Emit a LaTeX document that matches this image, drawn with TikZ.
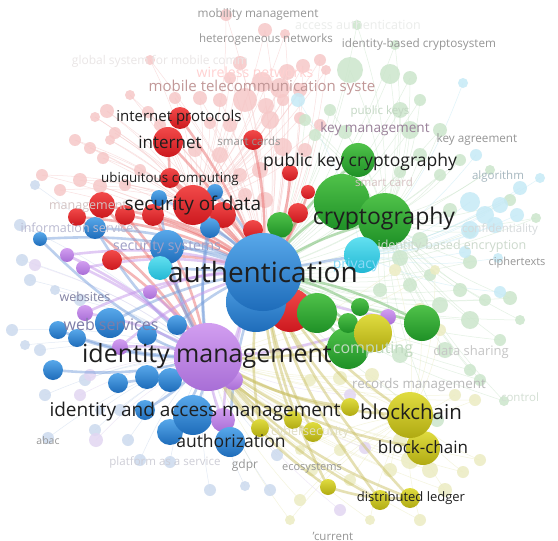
\documentclass[tikz,border=0pt]{standalone}
\usepackage{fontspec}
\setmainfont{Open Sans}
\usepackage{xcolor}
% light top / dark bottom of each cluster colour
\definecolor{bluehi}{RGB}{88,168,234}
\definecolor{bluelo}{RGB}{30,108,186}
\definecolor{redhi}{RGB}{242,74,74}
\definecolor{redlo}{RGB}{204,24,30}
\definecolor{greenhi}{RGB}{80,194,74}
\definecolor{greenlo}{RGB}{30,144,38}
\definecolor{purplehi}{RGB}{210,158,240}
\definecolor{purplelo}{RGB}{168,110,214}
\definecolor{yellowhi}{RGB}{224,220,64}
\definecolor{yellowlo}{RGB}{176,170,18}
\definecolor{cyanhi}{RGB}{98,224,240}
\definecolor{cyanlo}{RGB}{34,184,212}
\definecolor{redlink}{RGB}{234,112,112}
\definecolor{bluelink}{RGB}{120,160,220}
\definecolor{purplelink}{RGB}{196,150,234}
\definecolor{greenlink}{RGB}{110,186,104}
\definecolor{yellowlink}{RGB}{204,194,104}
\definecolor{palered}{RGB}{246,200,200}
\definecolor{palegreen}{RGB}{204,230,204}
\definecolor{palecyan}{RGB}{198,234,246}
\definecolor{paleyellow}{RGB}{236,236,194}
\definecolor{paleblue}{RGB}{204,218,238}
\definecolor{palepurple}{RGB}{226,214,242}
\definecolor{ink}{RGB}{30,30,30}
\definecolor{mute}{RGB}{150,150,150}
\pgfdeclarelayer{faintlinks}
\pgfdeclarelayer{faintnodes}
\pgfdeclarelayer{links}
\pgfsetlayers{faintlinks,faintnodes,links,main}

\begin{document}
\begin{tikzpicture}[x=1pt,y=-1pt,
    rad/.style={circle,inner sep=0pt,minimum size=#1*2pt},
    orb/.style={draw=none,top color=#1hi,bottom color=#1lo},
    pale/.style={draw=none,fill=#1,opacity=0.85},
    thread/.style={draw=#1,line width=0.5pt,opacity=0.55},
    bond/.style={draw=#1,line width=2.6pt,opacity=0.5,line cap=round},
    tag/.style={inner sep=0pt,text=ink,font=\fontsize{#1}{#1}\selectfont},
    hint/.style={inner sep=0pt,text=mute,font=\fontsize{#1}{#1}\selectfont},
    ghost/.style 2 args={inner sep=0pt,text=#2,font=\fontsize{#1}{#1}\selectfont}]
  \useasboundingbox (0,0) rectangle (558,541);
  \begin{pgfonlayer}{faintlinks}
    \fill[white] (0,0) rectangle (558,541);
  \end{pgfonlayer}

  % small highlighted items, per cluster
  \foreach \x/\y/\r [count=\i] in {102/205/13,77/217/9,125/215/10,153/215/11,
      223/215/13,112/260/10,290/173/8,308/192/7,298/213/10,253/230/10,290/310/22}
    \node[rad=\r,orb=red] (red\i) at (\x,\y) {};
  \foreach \x/\y/\r [count=\i] in {40/239/7,95/228/11,159/198/8,215/192/8,210/228/10,
      58/330/9,77/338/9,147/335/10,177/325/10,53/370/10,118/383/10,147/377/12,
      170/380/12,145/410/10,170/432/13,193/415/20,167/247/17}
    \node[rad=\r,orb=blue] (blue\i) at (\x,\y) {};
  \foreach \x/\y/\r [count=\i] in {67/255/7,83/268/7,85/313/8,150/292/7,120/347/8,
      233/380/10,223/420/12,388/317/8}
    \node[rad=\r,orb=purple] (purple\i) at (\x,\y) {};
  \foreach \x/\y/\r [count=\i] in {317/313/20,360/307/9,422/323/18,348/348/21,
      348/323/10,280/225/13}
    \node[rad=\r,orb=green] (green\i) at (\x,\y) {};
  \foreach \x/\y/\r [count=\i] in {350/407/9,313/432/10,293/420/9,260/428/9,
      328/487/8,380/500/10,373/333/19}
    \node[rad=\r,orb=yellow] (yellow\i) at (\x,\y) {};
  \node[rad=12,orb=cyan] (cyan1) at (160,268) {};

  % labelled items
  \node[rad=11,orb=red] (inetp) at (180,118) {};
  \node[rad=15,orb=red] (inet) at (168,142) {};
  \node[rad=10,orb=red] (smartc) at (253,140) {};
  \node[rad=10,orb=red] (ubiq) at (170,178) {};
  \node[rad=20,orb=red] (secdata) at (193,205) {};
  \node[rad=15,orb=blue] (websrv) at (110,323) {};
  \node[rad=15,orb=blue] (authz) at (230,442) {};
  \node[rad=17,orb=green] (pkc) at (358,160) {};
  \node[rad=28,orb=green] (crypto) at (342,202) {};
  \node[rad=27,orb=green] (cryptob) at (385,220) {};
  \node[rad=18,orb=cyan] (priv) at (362,255) {};
  \node[rad=10,orb=yellow] (dl) at (410,498) {};
  \node[rad=17,orb=yellow] (bcb) at (423,448) {};
  \node[rad=23,orb=yellow] (bc) at (410,415) {};
  \node[rad=34,orb=purple] (idm) at (208,357) {};
  \node[rad=30,orb=blue] (authb) at (256,302) {};
  \node[rad=39,orb=blue] (auth) at (263,272) {};

  % background items
  \foreach \x/\y/\r [count=\i] in {226/15/6,265/30/7,285/34/5,240/63/7,287/72/8,
      303/66/7,230/78/6,262/82/10,280/88/10,300/90/7,245/100/12,266/106/8,283/100/6,
      320/60/6,326/70/5,220/100/7,200/98/7,175/98/6,148/112/6,160/125/6,130/95/5,
      107/111/7,95/117/5,115/133/6,90/148/6,75/140/6,103/158/6,100/186/7,80/180/7,
      60/190/6,140/170/6,220/155/8,240/175/7,260/170/8,270/120/9,230/125/7,210/123/6,
      300/118/6,320/125/6,195/150/7,283/147/9,305/150/7,42/175/6,125/185/6,
      265/200/8,245/195/7,150/60/5,110/140/5}{
    \begin{pgfonlayer}{faintnodes}
      \node[rad=\r,pale=palered] (pr\i) at (\x,\y) {};
    \end{pgfonlayer}
    \begin{pgfonlayer}{faintlinks}
      \draw[thread=palered] (pr\i.center) to[bend left=10] (secdata.center);
      \draw[thread=palered] (pr\i.center) to[bend left=10] (auth.center);
    \end{pgfonlayer}
  }
  \foreach \x/\y/\r [count=\i] in {357/25/5,395/45/5,350/70/13,390/74/10,410/78/7,
      400/110/8,420/100/6,410/130/9,440/130/7,460/160/6,420/155/7,400/172/6,
      440/175/6,450/210/7,420/240/8,470/262/7,400/258/8,430/275/6,460/290/7,
      485/300/6,510/298/7,520/320/5,410/285/7,440/305/8,470/320/9,500/340/6,
      445/350/8,400/355/8,380/290/7,470/370/6,480/380/6,470/232/6,490/170/5,
      345/132/7,315/135/6,305/120/6,330/110/6,437/420/7,504/401/5,510/200/6,
      536/218/5}{
    \begin{pgfonlayer}{faintnodes}
      \node[rad=\r,pale=palegreen] (pg\i) at (\x,\y) {};
    \end{pgfonlayer}
    \begin{pgfonlayer}{faintlinks}
      \draw[thread=palegreen] (pg\i.center) to[bend left=10] (cryptob.center);
      \draw[thread=palegreen] (pg\i.center) to[bend left=10] (auth.center);
    \end{pgfonlayer}
  }
  \foreach \x/\y/\r [count=\i] in {476/155/6,470/202/10,485/215/9,470/230/9,
      495/225/8,500/205/8,517/215/7,520/188/7,540/178/5,498/258/5,298/100/7,
      463/83/5,500/292/6,465/252/6}{
    \begin{pgfonlayer}{faintnodes}
      \node[rad=\r,pale=palecyan] (pc\i) at (\x,\y) {};
    \end{pgfonlayer}
    \begin{pgfonlayer}{faintlinks}
      \draw[thread=palecyan] (pc\i.center) to[bend left=10] (priv.center);
    \end{pgfonlayer}
  }
  \foreach \x/\y/\r [count=\i] in {395/270/6,435/270/5,420/310/7,440/330/6,
      455/395/6,475/400/6,390/470/7,410/460/9,430/470/8,445/490/7,463/472/6,
      480/460/6,400/440/7,340/450/6,350/480/6,370/520/5,420/520/6,312/470/6,
      300/500/6,290/520/5,372/375/7,340/378/7,310/380/6,300/450/5}{
    \begin{pgfonlayer}{faintnodes}
      \node[rad=\r,pale=paleyellow] (py\i) at (\x,\y) {};
    \end{pgfonlayer}
    \begin{pgfonlayer}{faintlinks}
      \draw[thread=paleyellow] (py\i.center) to[bend left=10] (bc.center);
      \draw[thread=paleyellow] (py\i.center) to[bend left=10] (idm.center);
    \end{pgfonlayer}
  }
  \foreach \x/\y/\r [count=\i] in {35/185/5,20/225/6,22/260/6,30/280/6,12/330/6,
      25/345/5,40/350/6,45/395/6,48/438/6,85/380/6,95/430/6,128/440/6,140/460/6,
      170/462/6,148/375/6,210/490/6,245/486/5,270/490/6,277/455/6,120/410/6,
      100/410/5,80/300/6,55/290/5}{
    \begin{pgfonlayer}{faintnodes}
      \node[rad=\r,pale=paleblue] (pb\i) at (\x,\y) {};
    \end{pgfonlayer}
    \begin{pgfonlayer}{faintlinks}
      \draw[thread=paleblue] (pb\i.center) to[bend left=10] (idm.center);
    \end{pgfonlayer}
  }
  \foreach \x/\y/\r [count=\i] in {35/265/6,90/375/6,96/440/7,80/395/6,365/448/6,
      340/510/6,350/395/6}{
    \begin{pgfonlayer}{faintnodes}
      \node[rad=\r,pale=palepurple] (pp\i) at (\x,\y) {};
    \end{pgfonlayer}
    \begin{pgfonlayer}{faintlinks}
      \draw[thread=palepurple] (pp\i.center) to[bend left=10] (idm.center);
    \end{pgfonlayer}
  }

  % highlighted links
  \begin{pgfonlayer}{links}
    \foreach \i in {1,...,11}
      \draw[bond=redlink] (red\i.center) to[bend left=12] (auth.center);
    \foreach \i in {1,2,3,4,6}
      \draw[bond=redlink] (red\i.center) to[bend left=10] (idm.center);
    \foreach \n in {inetp,inet,smartc,ubiq,secdata}
      \draw[bond=redlink] (\n.center) to[bend left=8] (auth.center);
    \draw[bond=redlink] (inet.center) -- (ubiq.center) -- (secdata.center);
    \foreach \i in {1,...,17}
      \draw[bond=bluelink] (blue\i.center) to[bend right=10] (idm.center);
    \foreach \i in {1,2,3,4,5,9,17}
      \draw[bond=bluelink] (blue\i.center) to[bend left=12] (auth.center);
    \foreach \n in {websrv,authz}
      \draw[bond=bluelink] (\n.center) to[bend left=10] (auth.center);
    \foreach \i in {1,...,8}{
      \draw[bond=purplelink] (purple\i.center) to[bend left=10] (idm.center);
      \draw[bond=purplelink] (purple\i.center) to[bend left=12] (auth.center);
    }
    \foreach \i in {1,...,6}
      \draw[bond=greenlink] (green\i.center) to[bend right=10] (auth.center);
    \foreach \n in {pkc,crypto,cryptob}
      \draw[bond=greenlink] (\n.center) to[bend right=10] (auth.center);
    \draw[bond=greenlink] (green3.center) -- (green2.center);
    \foreach \i in {1,...,7}{
      \draw[bond=yellowlink] (yellow\i.center) to[bend left=12] (idm.center);
      \draw[bond=yellowlink] (yellow\i.center) to[bend left=10] (auth.center);
    }
    \foreach \n in {bc,bcb,dl}{
      \draw[bond=yellowlink] (\n.center) to[bend left=14] (idm.center);
      \draw[bond=yellowlink] (\n.center) to[bend left=10] (auth.center);
    }
    \draw[bond=yellowlink] (yellow5.center) to[bend right=10] (dl.center);
    \draw[bond=bluelink] (cyan1.center) -- (auth.center);
    \draw[bond=bluelink] (priv.center) -- (auth.center);
  \end{pgfonlayer}

  % faint labels
  \node[hint=11.8] (mobmgT) at (258,14) {mobility management};
  \node[hint=11.5] (hetnetT) at (266,40) {heterogeneous networks};
  \node[hint=11.7] (ibcsT) at (419,44) {identity-based cryptosystem};
  \node[ghost={12.5}{green!5!gray!15}] (accauthT) at (358,25) {access authentication};
  \node[ghost={12}{red!8!gray!18}] (gsmT) at (160,61) {global system for mobile comm};
  \node[ghost={14}{red!18!white}] (wlanT) at (255,72) {wireless networks};
  \node[ghost={15}{red!25!gray!65}] (mtsT) at (262,88) {mobile telecommunication syste};
  \node[ghost={11.5}{green!20!gray!40}] (pubkT) at (380,112) {public keys};
  \node[ghost={13.6}{violet!25!gray!80}] (keymgT) at (375,129) {key management};
  \node[hint=11.7] (keyagT) at (477,139) {key agreement};
  \node[ghost={11.5}{red!20!gray!40}] (scardT) at (384,182) {smart card};
  \node[ghost={11.5}{cyan!20!gray!70}] (algoT) at (498,177) {algorithm};
  \node[ghost={11.5}{cyan!10!gray!35}] (confT) at (500,229) {confidentiality};
  \node[ghost={12.5}{green!15!gray!35}] (ibeT) at (452,246) {identity-based encryption};
  \node[hint=11] (ciphT) at (517,263) {ciphertexts};
  \node[ghost={14}{cyan!45!white}] (privT) at (356,265) {privacy};
  \node[ghost={16}{green!25!gray!40}] (compT) at (373,350) {computing};
  \node[ghost={13}{gray!45}] (dshT) at (471,352) {data sharing};
  \node[ghost={13.4}{gray!55}] (recmgT) at (419,385) {records management};
  \node[ghost={11.5}{green!15!gray!30}] (ctrlT) at (520,397) {control};
  \node[ghost={12.5}{yellow!30!gray!40}] (cybT) at (310,432) {cybersecurity};
  \node[hint=11] (ecoT) at (312,468) {ecosystems};
  \node[hint=12] (gdprT) at (245,465) {gdpr};
  \node[hint=10.5] (abacT) at (48,441) {abac};
  \node[ghost={11.5}{blue!10!gray!35}] (paasT) at (165,462) {platform as a service};
  \node[hint=11.5] (curT) at (333,536) {'current};
  \node[ghost={12.5}{red!15!gray!40}] (mgmtT) at (88,207) {management};
  \node[ghost={12.5}{blue!20!gray!45}] (infsT) at (80,228) {information services};
  \node[ghost={14}{blue!25!gray!60}] (secsysT) at (167,247) {security systems};

  % main labels
  \node[tag=28] (authT) at (263,272) {authentication};
  \node[tag=25] (idmT) at (207,356) {identity management};
  \node[tag=23] (cryptoT) at (384,219) {cryptography};
  \node[tag=17.5] (pkcT) at (360,162) {public key cryptography};
  \node[tag=19] (secdataT) at (193,206) {security of data};
  \node[tag=17] (inetT) at (170,142) {internet};
  \node[tag=15] (inetpT) at (179,118) {internet protocols};
  \node[tag=13.4] (ubiqT) at (170,179) {ubiquitous computing};
  \node[hint=11.5] (smartcT) at (249,141) {smart cards};
  \node[tag=20.5] (bcT) at (411,412) {blockchain};
  \node[tag=17] (bcbT) at (423,447) {block-chain};
  \node[tag=19] (iamT) at (195,412) {identity and access management};
  \node[tag=17.5] (authzT) at (231,441) {authorization};
  \node[tag=13] (dlT) at (411,498) {distributed ledger};
  \node[ghost={16}{blue!20!gray!85}] (websrvT) at (111,324) {web services};
  \node[ghost={12.5}{blue!15!gray!85}] (websT) at (85,297) {websites};
\end{tikzpicture}
\end{document}
